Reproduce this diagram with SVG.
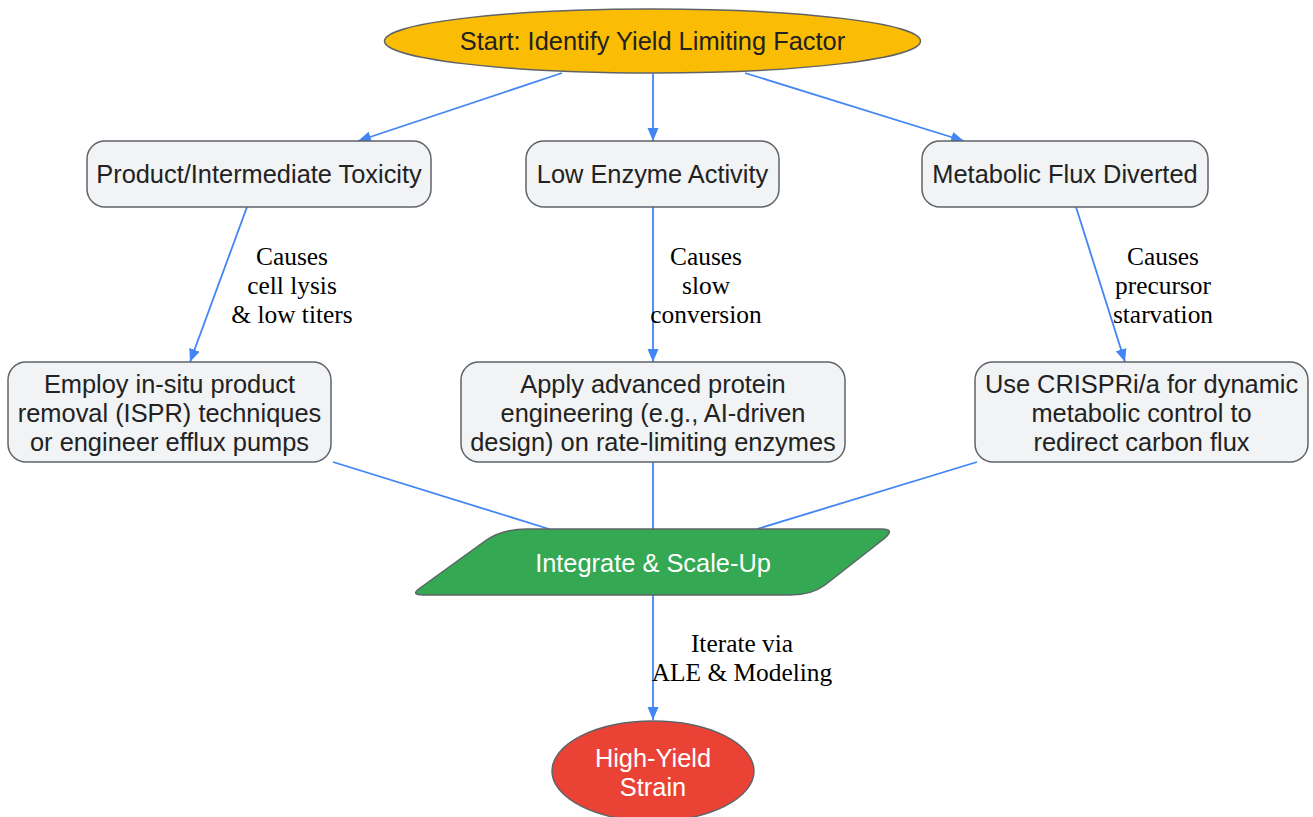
<svg xmlns="http://www.w3.org/2000/svg" width="1313" height="817" viewBox="0 0 1313 817">
<style>
.node{fill:#F1F3F4;stroke:#5F6368;stroke-width:1.5}
.nt{font-family:"Liberation Sans",Arial,sans-serif;font-size:25.4px;fill:#222;text-anchor:middle}
.wt{font-family:"Liberation Sans",Arial,sans-serif;font-size:25.4px;fill:#fff;text-anchor:middle}
.lbl{font-family:"Liberation Serif","Times New Roman",serif;font-size:25.4px;fill:#000;text-anchor:middle}
.edge{stroke:#4285F4;stroke-width:1.8;fill:none}
</style>
<defs>
<marker id="arr" markerUnits="userSpaceOnUse" markerWidth="14" markerHeight="14" viewBox="0 0 14 14" refX="13" refY="7" orient="auto">
<path d="M0,1.5 L13,7 L0,12.5 Z" fill="#4285F4"/>
</marker>
</defs>
<rect width="1313" height="817" fill="#fff"/>
<g id="connectors">
<line class="edge" x1="562" y1="73" x2="358" y2="141" marker-end="url(#arr)"/>
<line class="edge" x1="653" y1="74" x2="653" y2="141" marker-end="url(#arr)"/>
<line class="edge" x1="745" y1="73" x2="964" y2="141" marker-end="url(#arr)"/>
<line class="edge" x1="247" y1="207" x2="190" y2="362" marker-end="url(#arr)"/>
<line class="edge" x1="653" y1="207" x2="653" y2="362" marker-end="url(#arr)"/>
<line class="edge" x1="1076" y1="207" x2="1125" y2="362" marker-end="url(#arr)"/>
<line class="edge" x1="333" y1="462" x2="549" y2="529"/>
<line class="edge" x1="653" y1="462" x2="653" y2="529"/>
<line class="edge" x1="977" y1="462" x2="757" y2="529"/>
<line class="edge" x1="653" y1="595" x2="653" y2="720" marker-end="url(#arr)"/>
<text class="lbl"><tspan x="292" y="265">Causes</tspan><tspan x="292" y="294">cell lysis</tspan><tspan x="292" y="323">&amp; low titers</tspan></text>
<text class="lbl"><tspan x="706" y="265">Causes</tspan><tspan x="706" y="294">slow</tspan><tspan x="706" y="323">conversion</tspan></text>
<text class="lbl"><tspan x="1163" y="265">Causes</tspan><tspan x="1163" y="294">precursor</tspan><tspan x="1163" y="323">starvation</tspan></text>
<text class="lbl"><tspan x="742" y="652">Iterate via</tspan><tspan x="742" y="681">ALE &amp; Modeling</tspan></text>
</g>
<g id="start">
<ellipse cx="652.5" cy="41" rx="268" ry="32" fill="#FBBC04" stroke="#5F6368" stroke-width="1.5"/>
<text class="nt" x="652.5" y="50">Start: Identify Yield Limiting Factor</text>
</g>
<g id="toxicity">
<rect class="node" x="87" y="141" width="344" height="66" rx="18"/>
<text class="nt" x="259" y="183">Product/Intermediate Toxicity</text>
</g>
<g id="enzyme">
<rect class="node" x="526" y="141" width="253" height="66" rx="18"/>
<text class="nt" x="652.5" y="183">Low Enzyme Activity</text>
</g>
<g id="flux">
<rect class="node" x="922" y="141" width="286" height="66" rx="18"/>
<text class="nt" x="1065" y="183">Metabolic Flux Diverted</text>
</g>
<g id="ispr">
<rect class="node" x="8" y="362" width="323" height="100" rx="18"/>
<text class="nt"><tspan x="169.5" y="393">Employ in-situ product</tspan><tspan x="169.5" y="422">removal (ISPR) techniques</tspan><tspan x="169.5" y="451">or engineer efflux pumps</tspan></text>
</g>
<g id="protein">
<rect class="node" x="461" y="362" width="384" height="100" rx="18"/>
<text class="nt"><tspan x="653" y="393">Apply advanced protein</tspan><tspan x="653" y="422">engineering (e.g., AI-driven</tspan><tspan x="653" y="451">design) on rate-limiting enzymes</tspan></text>
</g>
<g id="crispr">
<rect class="node" x="975" y="362" width="333" height="100" rx="18"/>
<text class="nt"><tspan x="1141.5" y="393">Use CRISPRi/a for dynamic</tspan><tspan x="1141.5" y="422">metabolic control to</tspan><tspan x="1141.5" y="451">redirect carbon flux</tspan></text>
</g>
<g id="integrate">
<path d="M527,529 L882,529 Q895,529 885,538 L825,585 Q812,595 790,595 L423,595 Q410,595 420,588 L485,541 Q502,529 527,529 Z" fill="#34A853" stroke="#5F6368" stroke-width="1.5"/>
<text class="wt" x="653" y="572">Integrate &amp; Scale-Up</text>
</g>
<g id="strain">
<ellipse cx="653" cy="771" rx="101" ry="50" fill="#EA4335" stroke="#5F6368" stroke-width="1.5"/>
<text class="wt"><tspan x="653" y="767">High-Yield</tspan><tspan x="653" y="796">Strain</tspan></text>
</g>
</svg>
